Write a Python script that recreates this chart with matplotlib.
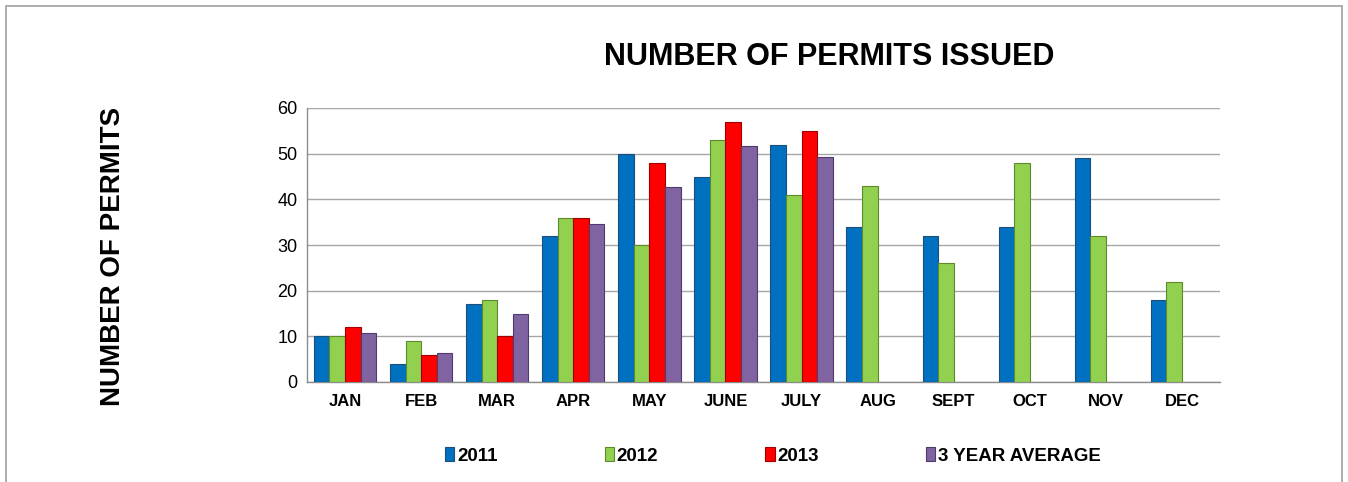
import matplotlib
matplotlib.use("Agg")
import matplotlib.pyplot as plt
import numpy as np
from matplotlib.patches import Rectangle

months = ["JAN", "FEB", "MAR", "APR", "MAY", "JUNE", "JULY", "AUG", "SEPT", "OCT", "NOV", "DEC"]
y2011 = [10, 4, 17, 32, 50, 45, 52, 34, 32, 34, 49, 18]
y2012 = [10, 9, 18, 36, 30, 53, 41, 43, 26, 48, 32, 22]
y2013 = [12, 6, 10, 36, 48, 57, 55, np.nan, np.nan, np.nan, np.nan, np.nan]
avg3 = [10.7, 6.3, 15, 34.7, 42.7, 51.7, 49.3, np.nan, np.nan, np.nan, np.nan, np.nan]
series_names = ["2011", "2012", "2013", "3 YEAR AVERAGE"]
yticks = [0, 10, 20, 30, 40, 50, 60]

plt.rcParams['font.family'] = ['Liberation Sans', 'DejaVu Sans']

fig = plt.figure(figsize=(13.48, 4.82), dpi=100)
ax = fig.add_axes([307/1348, 1-382/482, (1220-307)/1348, (382-108)/482])

colors = ["#0070C0", "#92D050", "#FF0000", "#8064A2"]
edges = ["#1F4E79", "#5E8A2A", "#A00000", "#4F3B6B"]
series = [y2011, y2012, y2013, avg3]
x = np.arange(len(months))
w = 0.205
offsets = [-1.5, -0.5, 0.5, 1.5]
handles = []
for s, c, e, off, name in zip(series, colors, edges, offsets, series_names):
    b = ax.bar(x + off * w, s, width=w, color=c, edgecolor=e, linewidth=0.8, label=name, zorder=3)
    handles.append(b)

ax.set_xlim(-0.5, 11.5)
ax.set_ylim(0, 60)
ax.set_yticks(yticks)
ax.yaxis.grid(True, color="#A6A6A6", linewidth=1.0, zorder=0)
ax.set_axisbelow(True)
for sp in ["top", "right"]:
    ax.spines[sp].set_visible(False)
for sp in ["left", "bottom"]:
    ax.spines[sp].set_color("#8C8C8C")
    ax.spines[sp].set_linewidth(1.0)
ax.tick_params(axis="y", length=0, labelsize=13, pad=7)
ax.tick_params(axis="x", length=0, labelsize=12, pad=9)
ax.set_xticks(x)
ax.set_xticklabels(months, fontweight="bold")

fig.text(829/1348, 1-57/482, "NUMBER OF PERMITS ISSUED", ha="center", va="center",
         fontsize=22, fontweight="bold")
fig.text(113/1348, 1-256/482, "NUMBER OF PERMITS", ha="center", va="center",
         rotation=90, fontsize=20, fontweight="bold")

fig.legend(handles=handles, loc="center", bbox_to_anchor=(773/1348, 1-456/482), ncol=4,
           frameon=False, prop={"weight": "bold", "size": 13.5}, handlelength=0.5,
           handleheight=0.75, handletextpad=0.15, columnspacing=5.7)

fig.patches.append(Rectangle((6/1348, -0.05), 1336/1348, 1.05 - 6/482, transform=fig.transFigure,
                             fill=False, edgecolor="#A0A0A0", linewidth=1.2))

fig.savefig("out.png", dpi=100)
